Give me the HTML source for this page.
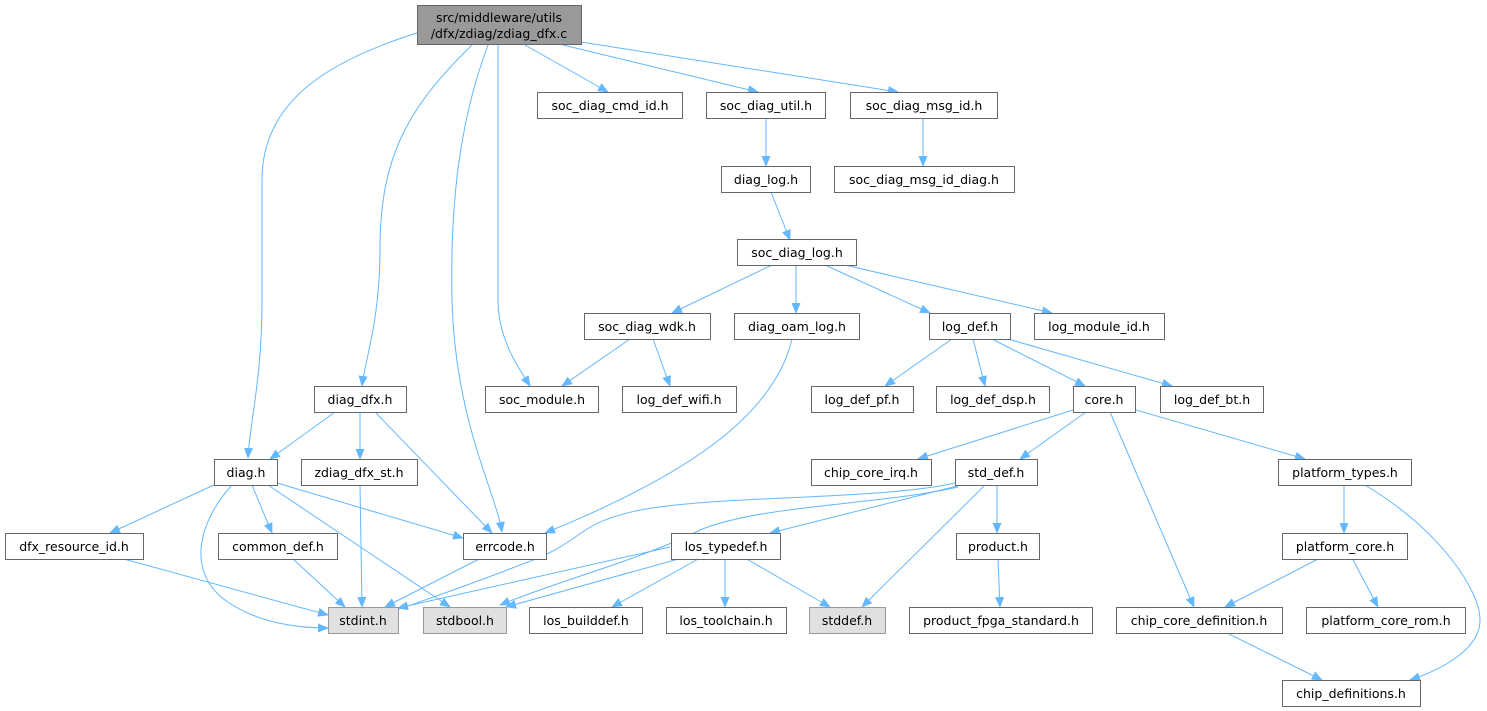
<!DOCTYPE html>
<html><head><meta charset="utf-8"><style>
html,body{margin:0;padding:0;background:#fff;}
svg{display:block;}
text{font-family:"DejaVu Sans","Liberation Sans",sans-serif;font-size:12.5px;fill:#000;text-anchor:middle;}
.b{fill:#fff;stroke:#666;stroke-width:1;}
.g{fill:#e0e0e0;stroke:#999;stroke-width:1;}
.r{fill:#999;stroke:#666;stroke-width:1;}
path{fill:none;stroke:#63b8ff;stroke-width:1;}
</style></head><body>
<svg width="1487" height="711" viewBox="0 0 1487 711" xmlns="http://www.w3.org/2000/svg">
<defs><marker id="a" markerWidth="11" markerHeight="9" refX="10" refY="4.5" orient="auto" markerUnits="userSpaceOnUse"><polygon points="0,0 11,4.5 0,9" fill="#63b8ff"/></marker></defs>
<g marker-end="url(#a)">
<path d="M420,32 C330,60 262,100 262,180 L262,300 C262,380 250,420 248,458"/>
<path d="M472,45 C405,110 380,160 380,250 C380,320 365,360 362,386"/>
<path d="M488,45 C460,120 450,200 452,300 C455,420 495,490 502,532"/>
<path d="M498,45 L498,300 C498,340 520,370 530,386"/>
<path d="M525,45 L608,92"/>
<path d="M563,45 L758,92"/>
<path d="M581,42 L898,92"/>
<path d="M766,119 L766,166"/>
<path d="M923,119 L923,166"/>
<path d="M771,192 L790,240"/>
<path d="M772,265 L672,313"/>
<path d="M796,265 L796,313"/>
<path d="M825,265 L930,313"/>
<path d="M845,265 L1052,313"/>
<path d="M630,339 L562,386"/>
<path d="M653,339 L670,386"/>
<path d="M792,339 C775,410 700,470 545,533"/>
<path d="M952,339 L885,386"/>
<path d="M973,339 L985,386"/>
<path d="M992,339 L1085,386"/>
<path d="M1008,339 L1172,386"/>
<path d="M1073,410 L918,459"/>
<path d="M1086,412 L1020,459"/>
<path d="M1110,412 L1194,607"/>
<path d="M1136,410 L1305,459"/>
<path d="M1344,485 L1344,533"/>
<path d="M1365,485 C1440,530 1480,590 1480,620 C1480,650 1440,670 1410,680"/>
<path d="M1320,558 L1225,607"/>
<path d="M1352,558 L1378,607"/>
<path d="M1225,632 L1322,680"/>
<path d="M965,484 L770,533"/>
<path d="M955,483 C880,500 720,495 640,510 C570,525 590,540 520,565 C470,585 430,598 385,614"/>
<path d="M958,487 C880,505 760,505 700,530 C640,560 560,580 500,605"/>
<path d="M985,485 L862,607"/>
<path d="M997,485 L997,533"/>
<path d="M998,558 L1000,607"/>
<path d="M670,547 L398,608"/>
<path d="M682,558 L506,607"/>
<path d="M700,558 L612,607"/>
<path d="M725,558 L725,607"/>
<path d="M745,558 L830,607"/>
<path d="M335,412 L270,459"/>
<path d="M360,412 L360,459"/>
<path d="M375,412 L492,533"/>
<path d="M216,484 L110,533"/>
<path d="M252,485 L272,533"/>
<path d="M232,485 C200,520 185,570 225,600 C255,622 295,628 328,628"/>
<path d="M268,485 L450,607"/>
<path d="M277,483 L463,538"/>
<path d="M360,485 L362,607"/>
<path d="M120,558 L328,615"/>
<path d="M292,558 L345,607"/>
<path d="M481,558 L385,607"/>
</g>
<rect class="r" x="417.5" y="5.5" width="164" height="39"/>
<text x="499" y="22">src/middleware/utils</text><text x="499" y="38">/dfx/zdiag/zdiag_dfx.c</text>
<rect class="b" x="537.5" y="92.5" width="145" height="26"/><text x="610" y="110">soc_diag_cmd_id.h</text>
<rect class="b" x="706.5" y="92.5" width="119" height="26"/><text x="766" y="110">soc_diag_util.h</text>
<rect class="b" x="850.5" y="92.5" width="147" height="26"/><text x="924" y="110">soc_diag_msg_id.h</text>
<rect class="b" x="721.5" y="166.5" width="89" height="26"/><text x="766" y="184">diag_log.h</text>
<rect class="b" x="834.5" y="166.5" width="180" height="26"/><text x="924" y="184">soc_diag_msg_id_diag.h</text>
<rect class="b" x="737.5" y="239.5" width="119" height="26"/><text x="797" y="257">soc_diag_log.h</text>
<rect class="b" x="584.5" y="313.5" width="126" height="26"/><text x="647" y="331">soc_diag_wdk.h</text>
<rect class="b" x="734.5" y="313.5" width="125" height="26"/><text x="797" y="331">diag_oam_log.h</text>
<rect class="b" x="929.5" y="313.5" width="81" height="26"/><text x="970" y="331">log_def.h</text>
<rect class="b" x="1034.5" y="313.5" width="130" height="26"/><text x="1099" y="331">log_module_id.h</text>
<rect class="b" x="314.5" y="386.5" width="92" height="26"/><text x="360" y="404">diag_dfx.h</text>
<rect class="b" x="485.5" y="386.5" width="113" height="26"/><text x="542" y="404">soc_module.h</text>
<rect class="b" x="622.5" y="386.5" width="114" height="26"/><text x="679" y="404">log_def_wifi.h</text>
<rect class="b" x="811.5" y="386.5" width="102" height="26"/><text x="862" y="404">log_def_pf.h</text>
<rect class="b" x="936.5" y="386.5" width="113" height="26"/><text x="993" y="404">log_def_dsp.h</text>
<rect class="b" x="1073.5" y="386.5" width="62" height="26"/><text x="1104" y="404">core.h</text>
<rect class="b" x="1160.5" y="386.5" width="103" height="26"/><text x="1212" y="404">log_def_bt.h</text>
<rect class="b" x="214.5" y="459.5" width="63" height="26"/><text x="246" y="477">diag.h</text>
<rect class="b" x="301.5" y="459.5" width="116" height="26"/><text x="359" y="477">zdiag_dfx_st.h</text>
<rect class="b" x="811.5" y="459.5" width="120" height="26"/><text x="871" y="477">chip_core_irq.h</text>
<rect class="b" x="955.5" y="459.5" width="82" height="26"/><text x="996" y="477">std_def.h</text>
<rect class="b" x="1278.5" y="459.5" width="133" height="26"/><text x="1345" y="477">platform_types.h</text>
<rect class="b" x="5.5" y="533.5" width="138" height="26"/><text x="74" y="551">dfx_resource_id.h</text>
<rect class="b" x="218.5" y="533.5" width="119" height="26"/><text x="278" y="551">common_def.h</text>
<rect class="b" x="463.5" y="533.5" width="83" height="26"/><text x="505" y="551">errcode.h</text>
<rect class="b" x="671.5" y="533.5" width="109" height="26"/><text x="726" y="551">los_typedef.h</text>
<rect class="b" x="956.5" y="533.5" width="83" height="26"/><text x="998" y="551">product.h</text>
<rect class="b" x="1282.5" y="533.5" width="125" height="26"/><text x="1345" y="551">platform_core.h</text>
<rect class="g" x="328.5" y="607.5" width="70" height="26"/><text x="363" y="625">stdint.h</text>
<rect class="g" x="423.5" y="607.5" width="83" height="26"/><text x="465" y="625">stdbool.h</text>
<rect class="b" x="529.5" y="607.5" width="113" height="26"/><text x="586" y="625">los_builddef.h</text>
<rect class="b" x="666.5" y="607.5" width="120" height="26"/><text x="726" y="625">los_toolchain.h</text>
<rect class="g" x="809.5" y="607.5" width="76" height="26"/><text x="847" y="625">stddef.h</text>
<rect class="b" x="909.5" y="607.5" width="183" height="26"/><text x="1001" y="625">product_fpga_standard.h</text>
<rect class="b" x="1116.5" y="607.5" width="166" height="26"/><text x="1199" y="625">chip_core_definition.h</text>
<rect class="b" x="1306.5" y="607.5" width="159" height="26"/><text x="1386" y="625">platform_core_rom.h</text>
<rect class="b" x="1282.5" y="680.5" width="138" height="26"/><text x="1351" y="698">chip_definitions.h</text>
</svg>
</body></html>
